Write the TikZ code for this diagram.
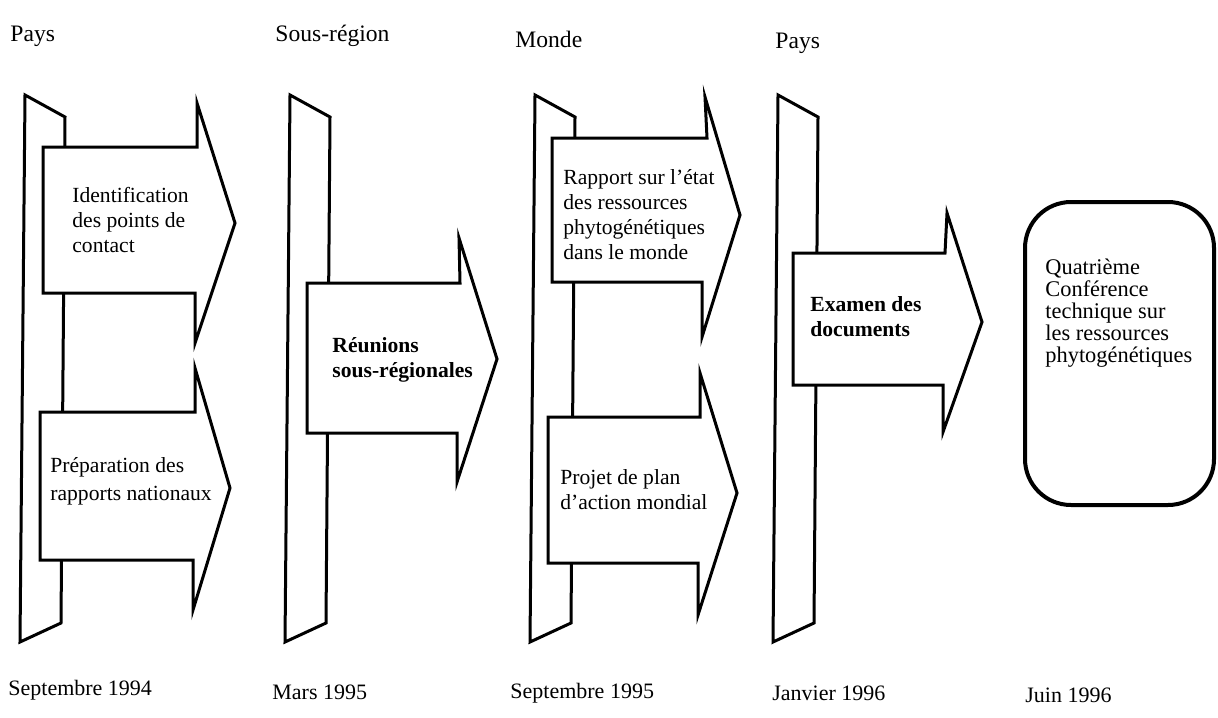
\documentclass[tikz,border=0pt]{standalone}
\usepackage{fontspec}
\setmainfont{Liberation Serif}
\tikzset{
  bar/.style={draw=black, line width=1.5pt, fill=white},
  flow/.style={draw=black, line width=1.5pt, fill=white},
  txt/.style={anchor=west, inner sep=0pt, align=left, font=\fontsize{10.8}{12.5}\selectfont},
  head/.style={anchor=west, inner sep=0pt, font=\fontsize{11}{13}\selectfont},
  level/.style={head, font=\fontsize{11.8}{14}\selectfont},
}

\begin{document}
\begin{tikzpicture}[x=0.5pt, y=-0.5pt]
\useasboundingbox (0,0) rectangle (1218,717);
% levels
\node[level] (pays) at (10,36) {Pays};
\node[level] (sousreg) at (275,36) {Sous-région};
\node[level] (monde) at (515,39) {Monde};
\node[level] (paysb) at (775,43) {Pays};
% bars
\foreach \x in {25,290,535,778}
  \draw[bar] (\x,95) -- (\x+40,117) -- (\x+36,623) -- (\x-5,642) -- cycle;
% arrows
\draw[flow] (43,147) -- (197,147) -- (197,103) -- (235,223) -- (195,343) -- (195,293) -- (43,293) -- cycle;
\draw[flow] (40,412) -- (195,412) -- (195,368) -- (230,488) -- (193,610) -- (193,560) -- (40,560) -- cycle;
\draw[flow] (307,283) -- (460,283) -- (459,238) -- (497,359) -- (457,482) -- (457,433) -- (307,433) -- cycle;
\draw[flow] (552,138) -- (707,138) -- (705,97) -- (740,215) -- (702,337) -- (702,282) -- (552,282) -- cycle;
\draw[flow] (548,417) -- (700,417) -- (700,373) -- (737,493) -- (698,615) -- (698,563) -- (548,563) -- cycle;
\draw[flow] (793,253) -- (945,253) -- (947,213) -- (982,322) -- (943,432) -- (943,385) -- (793,385) -- cycle;
\node[txt] (ident) at (72,220) {Identification\\des points de\\contact};
\node[txt] (prep) at (50,481) {Préparation des\\[1.5pt]rapports nationaux};
\node[txt, font=\fontsize{10.8}{12.5}\selectfont\bfseries] (reun) at (332,360) {Réunions\\sous-régionales};
\node[txt] (etat) at (563,215) {Rapport sur l'état\\des ressources\\phytogénétiques\\dans le monde};
\node[txt] (plan) at (560,490) {Projet de plan\\d'action mondial};
\node[txt, font=\fontsize{10.8}{12.5}\selectfont\bfseries] (exam) at (810,317) {Examen des\\documents};
% conference
\node[draw, line width=2pt, rounded corners=23pt, minimum width=94.5pt, minimum height=151.5pt] (conf) at (1119.5,353.5) {};
\node[txt, font=\fontsize{11.2}{11}\selectfont] (quat) at (1045,313) {Quatrième\\Conférence\\technique sur\\les ressources\\phytogénétiques};
% dates
\node[head] (sep94) at (8,690) {Septembre 1994};
\node[head] (mar95) at (272,692) {Mars 1995};
\node[head] (sep95) at (510,693) {Septembre 1995};
\node[head] (jan96) at (772,693) {Janvier 1996};
\node[head] (jun96) at (1025,695) {Juin 1996};
\end{tikzpicture}
\end{document}
